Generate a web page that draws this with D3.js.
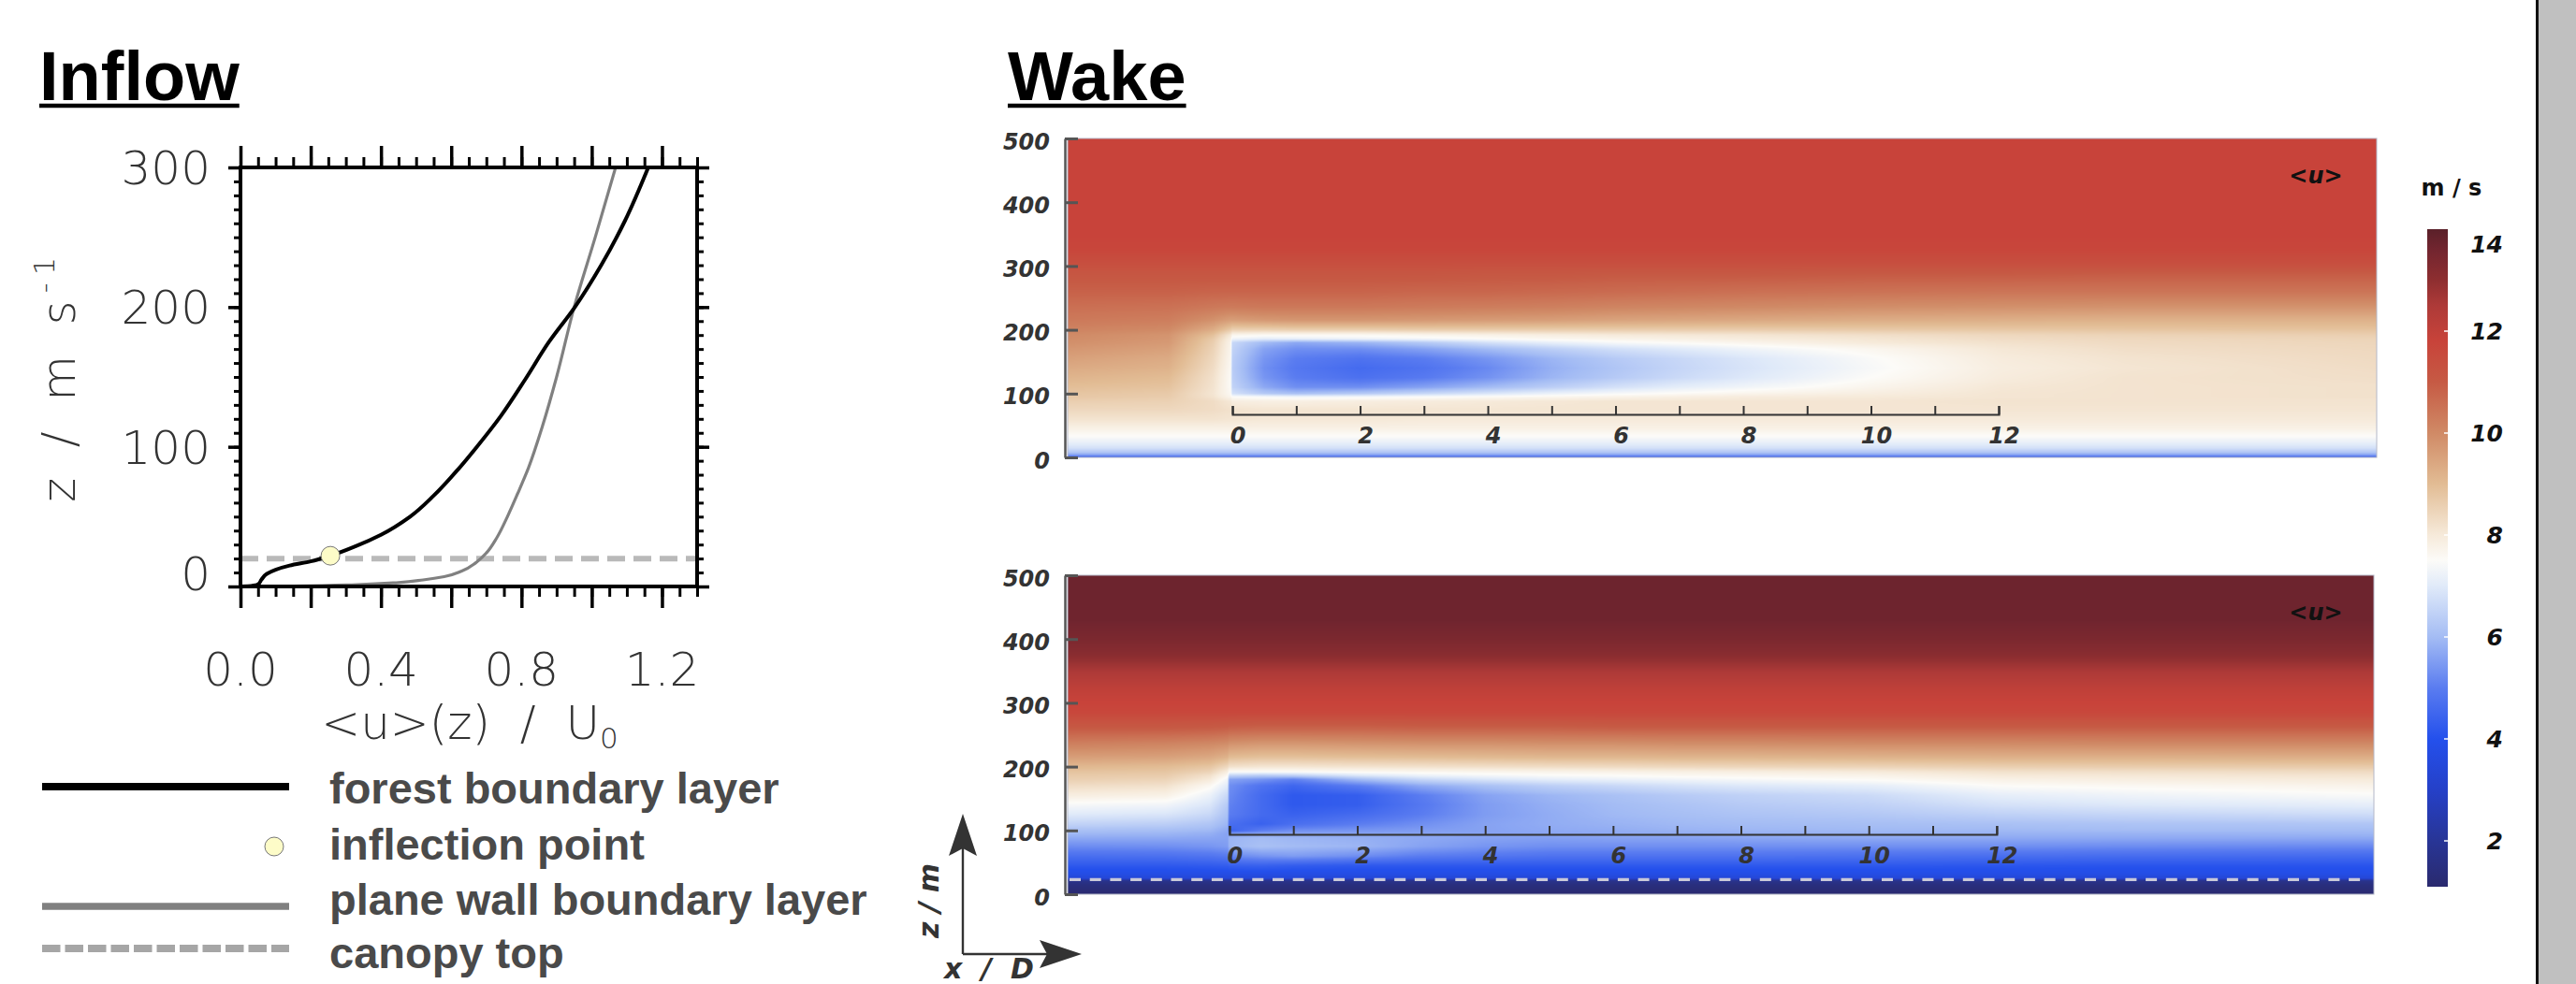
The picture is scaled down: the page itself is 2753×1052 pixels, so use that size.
<!DOCTYPE html>
<html>
<head>
<meta charset="utf-8">
<script src="https://cdn.jsdelivr.net/npm/d3@7"></script>
<style>
  body { margin: 0; background: #fff; }
  svg { display: block; }
</style>
</head>
<body>
<div id="container"></div>
<script>
"use strict";

const width = 2753;
const height = 1052;

// ---- inflow profiles (u / U0 against z) ----
const forestU = [0, 0.03, 0.05, 0.06, 0.075, 0.1, 0.14, 0.2, 0.256, 0.33, 0.4, 0.483, 0.55, 0.62, 0.673, 0.741, 0.81, 0.878, 0.952, 1.027, 1.095, 1.161];
const forestZ = [0, 0.3, 1.5, 5, 9, 12, 15, 18, 22, 29, 37, 50, 65, 84, 100, 122, 148, 175, 200, 230, 262, 300];
const planeU = [0, 0.15, 0.33, 0.45, 0.52, 0.58, 0.63, 0.67, 0.70, 0.73, 0.76, 0.79, 0.82, 0.86, 0.90, 0.95, 1.01, 1.068];
const planeZ = [0, 0.3, 1.3, 2.8, 4.7, 7, 11, 17, 24, 35, 50, 67, 85, 115, 150, 200, 250, 300];
const inflectionPoint = [0.256, 22];
const canopyInflow = 20;
const canopyWake = 23;

const inflowXTicks = [0.0, 0.4, 0.8, 1.2];
const inflowYTicks = [0, 100, 200, 300];
const legendLabels = ["forest boundary layer", "inflection point", "plane wall boundary layer", "canopy top"];

// ---- wake fields: <u> in m/s, rows = zLevels, columns = xCols (x / D) ----
const xCols = [-2.6, -1, -0.3, -0.03, 0, 0.5, 1, 2, 3, 4, 5, 6, 7, 8, 10, 12, 14, 18];
const zLevels = [500, 430, 400, 375, 350, 325, 305, 285, 260, 235, 215, 200, 192, 186, 180, 170, 155, 140, 125, 110, 100, 95, 88, 75, 60, 45, 32, 25, 21, 15, 8, 3, 0];

const uPlaneWall = [
  [11.8,11.8,11.8,11.8,11.8,11.8,11.8,11.8,11.8,11.8,11.8,11.8,11.8,11.8,11.8,11.8,11.8,11.8],
  [11.8,11.8,11.8,11.8,11.8,11.8,11.8,11.8,11.8,11.8,11.8,11.8,11.8,11.8,11.8,11.8,11.8,11.8],
  [11.8,11.8,11.8,11.8,11.8,11.8,11.8,11.8,11.8,11.8,11.8,11.8,11.8,11.8,11.8,11.8,11.8,11.8],
  [11.8,11.8,11.8,11.8,11.8,11.8,11.8,11.8,11.8,11.8,11.8,11.8,11.8,11.8,11.8,11.8,11.8,11.8],
  [11.8,11.8,11.8,11.8,11.8,11.8,11.8,11.8,11.8,11.8,11.8,11.8,11.8,11.8,11.8,11.8,11.8,11.8],
  [11.7,11.7,11.7,11.7,11.7,11.7,11.7,11.7,11.7,11.7,11.7,11.7,11.7,11.7,11.7,11.7,11.7,11.7],
  [11.4,11.4,11.4,11.4,11.4,11.4,11.4,11.4,11.4,11.4,11.4,11.4,11.4,11.4,11.4,11.4,11.4,11.4],
  [11.1,11.1,11.1,11.1,11.1,11.1,11.1,11.1,11.1,11.05,11.05,11.0,11.0,11.0,10.95,10.95,10.9,10.9],
  [10.85,10.85,10.8,10.8,10.8,10.8,10.8,10.8,10.75,10.75,10.7,10.65,10.6,10.55,10.5,10.45,10.45,10.45],
  [10.55,10.5,10.35,10.3,10.3,10.35,10.35,10.35,10.3,10.25,10.2,10.1,10.05,10.0,9.9,9.85,9.8,9.8],
  [10.35,10.25,9.85,9.6,9.6,9.7,9.75,9.75,9.7,9.65,9.6,9.5,9.45,9.4,9.3,9.25,9.2,9.2],
  [10.15,10.0,9.3,8.7,8.55,8.55,8.6,8.6,8.65,8.65,8.65,8.65,8.65,8.65,8.7,8.75,8.8,8.85],
  [10.0,9.8,8.9,8.05,7.7,7.6,7.6,7.6,7.7,7.8,7.9,8.0,8.05,8.1,8.25,8.4,8.5,8.6],
  [9.95,9.75,8.7,7.85,7.3,7.1,7.15,7.25,7.35,7.5,7.65,7.75,7.85,7.95,8.1,8.3,8.4,8.5],
  [9.9,9.7,8.6,7.75,6.6,6.0,5.7,5.9,6.3,6.8,7.15,7.4,7.55,7.7,8.0,8.2,8.35,8.45],
  [9.75,9.55,8.5,7.7,6.5,5.6,5.3,5.3,5.6,6.0,6.4,6.75,7.0,7.25,7.65,8.05,8.25,8.4],
  [9.55,9.35,8.4,7.65,6.4,5.4,5.0,4.8,5.0,5.4,5.9,6.3,6.6,6.9,7.45,7.95,8.15,8.35],
  [9.35,9.2,8.3,7.6,6.35,5.3,4.9,4.6,4.8,5.2,5.8,6.2,6.55,6.85,7.4,7.9,8.1,8.3],
  [9.15,9.0,8.2,7.55,6.4,5.4,5.0,4.75,4.95,5.35,5.9,6.3,6.65,6.95,7.5,7.95,8.15,8.25],
  [8.95,8.85,8.15,7.55,6.5,5.7,5.3,5.3,5.6,6.0,6.4,6.8,7.1,7.3,7.7,8.05,8.15,8.2],
  [8.8,8.7,8.1,7.6,6.8,6.3,6.1,6.3,6.6,6.9,7.2,7.4,7.55,7.7,7.9,8.1,8.15,8.2],
  [8.75,8.65,8.15,7.7,7.5,7.4,7.3,7.35,7.45,7.55,7.65,7.75,7.85,7.95,8.0,8.1,8.15,8.2],
  [8.6,8.55,8.3,8.05,7.9,7.85,7.85,7.9,7.95,8.0,8.05,8.1,8.1,8.1,8.1,8.15,8.15,8.15],
  [8.4,8.4,8.3,8.2,8.15,8.1,8.1,8.1,8.1,8.1,8.1,8.1,8.1,8.1,8.1,8.1,8.1,8.1],
  [8.15,8.15,8.15,8.1,8.1,8.05,8.05,8.05,8.0,8.0,8.0,8.0,8.0,8.0,8.0,8.0,8.0,8.0],
  [7.8,7.8,7.8,7.8,7.8,7.8,7.8,7.8,7.8,7.8,7.8,7.8,7.8,7.8,7.8,7.8,7.8,7.8],
  [7.45,7.45,7.45,7.45,7.45,7.45,7.45,7.45,7.45,7.45,7.45,7.45,7.45,7.45,7.45,7.45,7.45,7.45],
  [7.2,7.2,7.2,7.2,7.2,7.2,7.2,7.2,7.2,7.2,7.2,7.2,7.2,7.2,7.2,7.2,7.2,7.2],
  [7.05,7.05,7.05,7.05,7.05,7.05,7.05,7.05,7.05,7.05,7.05,7.05,7.05,7.05,7.05,7.05,7.05,7.05],
  [6.8,6.8,6.8,6.8,6.8,6.8,6.8,6.8,6.8,6.8,6.8,6.8,6.8,6.8,6.8,6.8,6.8,6.8],
  [6.2,6.2,6.2,6.2,6.2,6.2,6.2,6.2,6.2,6.2,6.2,6.2,6.2,6.2,6.2,6.2,6.2,6.2],
  [5.4,5.4,5.4,5.4,5.4,5.4,5.4,5.4,5.4,5.4,5.4,5.4,5.4,5.4,5.4,5.4,5.4,5.4],
  [4.0,4.0,4.0,4.0,4.0,4.0,4.0,4.0,4.0,4.0,4.0,4.0,4.0,4.0,4.0,4.0,4.0,4.0]
];

const uForest = [
  [13.7,13.7,13.7,13.7,13.7,13.7,13.7,13.7,13.7,13.7,13.7,13.7,13.7,13.7,13.7,13.7,13.7,13.7],
  [13.65,13.65,13.65,13.65,13.65,13.65,13.65,13.65,13.65,13.65,13.65,13.65,13.65,13.65,13.65,13.65,13.65,13.65],
  [13.4,13.4,13.4,13.4,13.4,13.4,13.4,13.4,13.4,13.4,13.4,13.4,13.4,13.4,13.4,13.4,13.4,13.4],
  [13.1,13.1,13.1,13.1,13.1,13.1,13.1,13.1,13.1,13.1,13.1,13.1,13.1,13.1,13.1,13.1,13.1,13.1],
  [12.55,12.55,12.55,12.55,12.55,12.55,12.55,12.55,12.55,12.55,12.55,12.55,12.55,12.55,12.55,12.55,12.55,12.55],
  [12.1,12.1,12.1,12.1,12.1,12.1,12.1,12.1,12.1,12.1,12.1,12.1,12.1,12.1,12.1,12.1,12.1,12.1],
  [11.85,11.85,11.85,11.85,11.85,11.85,11.85,11.85,11.85,11.85,11.85,11.85,11.85,11.85,11.85,11.85,11.85,11.85],
  [11.65,11.65,11.65,11.65,11.65,11.65,11.65,11.65,11.65,11.65,11.65,11.65,11.65,11.65,11.65,11.65,11.65,11.65],
  [11.0,11.0,10.95,10.9,10.85,10.8,10.8,10.8,10.85,10.85,10.85,10.9,10.9,10.9,10.9,10.9,10.9,10.9],
  [10.2,10.1,10.0,9.9,9.8,9.7,9.7,9.75,9.8,9.8,9.85,9.85,9.9,9.9,9.95,9.95,10.0,10.0],
  [9.6,9.55,9.4,9.2,9.0,8.9,8.9,8.95,9.0,9.05,9.1,9.1,9.15,9.15,9.2,9.25,9.25,9.3],
  [9.1,9.0,8.8,8.4,8.2,8.1,8.1,8.15,8.2,8.25,8.3,8.35,8.4,8.45,8.5,8.6,8.65,8.7],
  [8.85,8.8,8.5,7.9,7.5,7.5,7.5,7.6,7.65,7.7,7.75,7.8,7.85,7.9,8.0,8.2,8.25,8.35],
  [8.7,8.65,8.2,7.6,6.5,6.3,6.4,6.9,7.2,7.35,7.45,7.5,7.6,7.65,7.75,8.0,8.05,8.15],
  [8.6,8.5,8.0,7.3,5.6,5.4,5.1,6.0,6.6,6.9,7.1,7.2,7.3,7.4,7.55,7.8,7.9,8.0],
  [8.3,8.2,7.6,7.0,5.3,4.8,4.5,5.0,5.7,6.1,6.4,6.6,6.8,6.95,7.1,7.5,7.6,7.75],
  [7.9,7.8,7.2,6.6,5.2,4.6,4.2,4.3,5.0,5.6,5.9,6.1,6.3,6.45,6.65,7.1,7.25,7.45],
  [7.4,7.3,6.9,6.3,5.1,4.6,4.2,4.3,4.9,5.5,5.8,6.0,6.15,6.3,6.45,6.8,6.95,7.1],
  [7.0,6.9,6.6,6.1,5.0,4.6,4.4,4.6,5.0,5.5,5.75,5.95,6.05,6.15,6.25,6.45,6.55,6.7],
  [6.5,6.4,6.2,5.9,4.7,4.4,4.7,5.0,5.3,5.6,5.75,5.85,5.95,6.0,6.05,6.1,6.15,6.2],
  [6.1,6.05,5.95,5.7,4.4,5.0,5.3,5.4,5.5,5.6,5.7,5.75,5.85,5.9,5.95,5.95,6.0,6.0],
  [5.95,5.9,5.8,5.6,5.5,5.6,5.6,5.6,5.6,5.6,5.65,5.7,5.75,5.8,5.85,5.85,5.85,5.9],
  [5.7,5.7,5.65,5.6,5.9,6.0,5.9,5.8,5.7,5.6,5.55,5.6,5.6,5.65,5.7,5.7,5.7,5.7],
  [5.25,5.3,5.4,5.5,5.9,6.1,6.0,5.9,5.6,5.4,5.3,5.3,5.3,5.3,5.3,5.3,5.25,5.2],
  [4.7,4.75,4.85,4.95,5.2,5.4,5.5,5.3,5.0,4.9,4.8,4.8,4.8,4.8,4.75,4.7,4.65,4.6],
  [4.2,4.2,4.25,4.3,4.35,4.4,4.3,4.2,4.2,4.2,4.2,4.2,4.2,4.2,4.2,4.15,4.1,4.1],
  [3.8,3.8,3.8,3.8,3.8,3.8,3.8,3.8,3.8,3.8,3.8,3.8,3.8,3.8,3.8,3.8,3.8,3.8],
  [3.4,3.4,3.4,3.4,3.4,3.4,3.4,3.4,3.4,3.4,3.4,3.4,3.4,3.4,3.4,3.4,3.4,3.4],
  [1.8,1.8,1.8,1.8,1.8,1.8,1.8,1.8,1.8,1.8,1.8,1.8,1.8,1.8,1.8,1.8,1.8,1.8],
  [1.45,1.45,1.45,1.45,1.45,1.45,1.45,1.45,1.45,1.45,1.45,1.45,1.45,1.45,1.45,1.45,1.45,1.45],
  [1.3,1.3,1.3,1.3,1.3,1.3,1.3,1.3,1.3,1.3,1.3,1.3,1.3,1.3,1.3,1.3,1.3,1.3],
  [1.2,1.2,1.2,1.2,1.2,1.2,1.2,1.2,1.2,1.2,1.2,1.2,1.2,1.2,1.2,1.2,1.2,1.2],
  [1.2,1.2,1.2,1.2,1.2,1.2,1.2,1.2,1.2,1.2,1.2,1.2,1.2,1.2,1.2,1.2,1.2,1.2]
];

const wakeZTicks = [0, 100, 200, 300, 400, 500];
const wakeXTicks = [0, 2, 4, 6, 8, 10, 12];
const colorbarTicks = [2, 4, 6, 8, 10, 12, 14];

// colour map of <u>
const uStops = [1.1, 2, 3, 4, 5, 6, 7, 7.5, 8, 9, 10, 11, 11.8, 12.5, 13, 13.6, 14];
const uColors = ["#2a2a6e", "#283596", "#2540c8", "#2450ec", "#5a7cf0", "#a4bcf4", "#e0eaf9", "#fcfbf8",
                 "#f6eada", "#e2bc94", "#d08a66", "#c65a44", "#c8433a", "#ae3a38", "#8e2e30", "#72252f", "#5a2029"];
const colorScale = d3.scaleLinear().domain(uStops).range(uColors).interpolate(d3.interpolateRgb).clamp(true);

const thinFont = "'DejaVu Sans', sans-serif";
const boldFont = "'Liberation Sans', Arial, sans-serif";
const wakeFont = "'DejaVu Sans', sans-serif";

const svg = d3.select("#container").append("svg")
    .attr("width", width)
    .attr("height", height);

svg.append("rect").attr("width", width).attr("height", height).attr("fill", "#fff");

// titles with underline
function title(txt, x, y) {
    const t = svg.append("text")
        .attr("x", x).attr("y", y)
        .attr("font-family", boldFont)
        .attr("font-weight", "bold")
        .attr("font-size", 74)
        .attr("fill", "#000")
        .text(txt);
    const w = t.node().getComputedTextLength();
    svg.append("line")
        .attr("x1", x).attr("x2", x + w)
        .attr("y1", y + 6).attr("y2", y + 6)
        .attr("stroke", "#000").attr("stroke-width", 4.5);
}
title("Inflow", 42, 107);
title("Wake", 1077, 107);

// ================= INFLOW =================
const ix = d3.scaleLinear().domain([0, 1.3]).range([257, 745]);
const iy = d3.scaleLinear().domain([0, 300]).range([627, 179]);

const inflow = svg.append("g");

// canopy top
inflow.append("line")
    .attr("x1", ix(0)).attr("x2", ix(1.3))
    .attr("y1", iy(canopyInflow)).attr("y2", iy(canopyInflow))
    .attr("stroke", "#b9b9b9").attr("stroke-width", 6)
    .attr("stroke-dasharray", "19 9");

const profileLine = d3.line()
    .x(d => ix(d[0]))
    .y(d => iy(d[1]))
    .curve(d3.curveMonotoneY);

inflow.append("path")
    .datum(d3.zip(planeU, planeZ))
    .attr("d", profileLine)
    .attr("fill", "none").attr("stroke", "#808080").attr("stroke-width", 3.2);

inflow.append("path")
    .datum(d3.zip(forestU, forestZ))
    .attr("d", profileLine)
    .attr("fill", "none").attr("stroke", "#000").attr("stroke-width", 4);

inflow.append("circle")
    .attr("cx", ix(inflectionPoint[0])).attr("cy", iy(inflectionPoint[1]))
    .attr("r", 10)
    .attr("fill", "#fdfcc8").attr("stroke", "#777").attr("stroke-width", 1);

// frame + ticks
function styleAxis(g, w) {
    g.select(".domain").remove();
    g.selectAll(".tick line").attr("stroke", "#000").attr("stroke-width", w);
}
const majorU = d3.range(0, 1.31, 0.2);
const minorU = d3.range(0, 1.31, 0.05);
const majorZ = [0, 100, 200, 300];
const minorZ = d3.range(0, 301, 10);

inflow.append("g").attr("transform", `translate(0,${iy(0)})`)
    .call(d3.axisBottom(ix).tickValues(minorU).tickSize(11).tickFormat(""))
    .call(g => styleAxis(g, 3));
inflow.append("g").attr("transform", `translate(0,${iy(0)})`)
    .call(d3.axisBottom(ix).tickValues(majorU).tickSize(23).tickFormat(""))
    .call(g => styleAxis(g, 3.5));
inflow.append("g").attr("transform", `translate(0,${iy(300)})`)
    .call(d3.axisTop(ix).tickValues(minorU).tickSize(11).tickFormat(""))
    .call(g => styleAxis(g, 3));
inflow.append("g").attr("transform", `translate(0,${iy(300)})`)
    .call(d3.axisTop(ix).tickValues(majorU).tickSize(23).tickFormat(""))
    .call(g => styleAxis(g, 3.5));
inflow.append("g").attr("transform", `translate(${ix(0)},0)`)
    .call(d3.axisLeft(iy).tickValues(minorZ).tickSize(7).tickFormat(""))
    .call(g => styleAxis(g, 3));
inflow.append("g").attr("transform", `translate(${ix(0)},0)`)
    .call(d3.axisLeft(iy).tickValues(majorZ).tickSize(13).tickFormat(""))
    .call(g => styleAxis(g, 3.5));
inflow.append("g").attr("transform", `translate(${ix(1.3)},0)`)
    .call(d3.axisRight(iy).tickValues(minorZ).tickSize(7).tickFormat(""))
    .call(g => styleAxis(g, 3));
inflow.append("g").attr("transform", `translate(${ix(1.3)},0)`)
    .call(d3.axisRight(iy).tickValues(majorZ).tickSize(13).tickFormat(""))
    .call(g => styleAxis(g, 3.5));

inflow.append("rect")
    .attr("x", ix(0)).attr("y", iy(300))
    .attr("width", ix(1.3) - ix(0)).attr("height", iy(0) - iy(300))
    .attr("fill", "none").attr("stroke", "#000").attr("stroke-width", 4);

// tick labels
inflow.selectAll(".ylab").data(inflowYTicks).enter().append("text")
    .attr("x", ix(0) - 32)
    .attr("y", d => iy(d) + (d === 0 ? -14 : 0))
    .attr("dy", "0.36em")
    .attr("text-anchor", "end")
    .attr("font-family", thinFont).attr("font-weight", 200)
    .attr("font-size", 50).attr("fill", "#333")
    .text(d => d);
inflow.selectAll(".xlab").data(inflowXTicks).enter().append("text")
    .attr("x", d => ix(d))
    .attr("y", 733)
    .attr("text-anchor", "middle")
    .attr("font-family", thinFont).attr("font-weight", 200)
    .attr("font-size", 50).attr("fill", "#333")
    .text(d => d.toFixed(1));

// axis titles
const xTitle = inflow.append("text")
    .attr("x", 502).attr("y", 790)
    .attr("text-anchor", "middle")
    .style("white-space", "pre")
    .attr("font-family", thinFont).attr("font-weight", 200)
    .attr("font-size", 50).attr("fill", "#333");
xTitle.append("tspan").text("<u>(z)  /  U");
xTitle.append("tspan").attr("font-size", 31).attr("dy", 10).text("0");

const yTitle = inflow.append("text")
    .attr("transform", "translate(80,406) rotate(-90)")
    .attr("text-anchor", "middle")
    .attr("font-family", thinFont).attr("font-weight", 200)
    .attr("font-size", 50).attr("fill", "#333")
    .attr("textLength", 262).attr("lengthAdjust", "spacing");
yTitle.append("tspan").text("z / m s");
yTitle.append("tspan").attr("font-size", 30).attr("dy", -22).text("-1");

// legend
const legendRows = [841, 905, 969, 1014];
const legendBase = [859, 919, 978, 1035];
const legend = svg.append("g");
legend.append("line").attr("x1", 45).attr("x2", 309).attr("y1", legendRows[0]).attr("y2", legendRows[0])
    .attr("stroke", "#000").attr("stroke-width", 8);
legend.append("circle").attr("cx", 293).attr("cy", legendRows[1]).attr("r", 10)
    .attr("fill", "#fdfcc8").attr("stroke", "#777").attr("stroke-width", 1);
legend.append("line").attr("x1", 45).attr("x2", 309).attr("y1", legendRows[2]).attr("y2", legendRows[2])
    .attr("stroke", "#808080").attr("stroke-width", 7.5);
legend.append("line").attr("x1", 45).attr("x2", 309).attr("y1", legendRows[3]).attr("y2", legendRows[3])
    .attr("stroke", "#a6a6a6").attr("stroke-width", 8).attr("stroke-dasharray", "19.5 5");
legend.selectAll("text").data(legendLabels).enter().append("text")
    .attr("x", 352)
    .attr("y", (d, i) => legendBase[i])
    .attr("font-family", boldFont).attr("font-weight", "bold")
    .attr("font-size", 47).attr("fill", "#4a4a4a")
    .text(d => d);

// ================= WAKE =================
const lutMin = 1, lutMax = 14.5, lutN = 1200;
const lut = d3.range(lutN).map(i => d3.rgb(colorScale(lutMin + (lutMax - lutMin) * i / (lutN - 1))));

function drawField(parent, grid, xScale, zScale) {
    const [xa, xb] = xScale.range();
    const [yb, ya] = zScale.range();
    const w = Math.round(xb - xa), h = Math.round(yb - ya);
    const canvas = document.createElement("canvas");
    canvas.width = w; canvas.height = h;
    const ctx = canvas.getContext("2d");
    const img = ctx.createImageData(w, h);

    // each grid column interpolated along z
    const cols = xCols.map((_, j) => {
        const s = d3.scaleLinear().domain(zLevels).range(grid.map(r => r[j])).clamp(true);
        return d3.range(h).map(py => s(zScale.invert(ya + py + 0.5)));
    });

    for (let px = 0; px < w; px++) {
        const xv = xScale.invert(xa + px + 0.5);
        let j = d3.bisectRight(xCols, xv) - 1;
        j = Math.max(0, Math.min(xCols.length - 2, j));
        const t = Math.max(0, Math.min(1, (xv - xCols[j]) / (xCols[j + 1] - xCols[j])));
        for (let py = 0; py < h; py++) {
            const u = cols[j][py] * (1 - t) + cols[j + 1][py] * t;
            let li = Math.round((u - lutMin) / (lutMax - lutMin) * (lutN - 1));
            li = Math.max(0, Math.min(lutN - 1, li));
            const c = lut[li];
            const k = (py * w + px) * 4;
            img.data[k] = c.r; img.data[k + 1] = c.g; img.data[k + 2] = c.b; img.data[k + 3] = 255;
        }
    }
    ctx.putImageData(img, 0, 0);
    parent.append("image")
        .attr("x", xa).attr("y", ya)
        .attr("width", w).attr("height", h)
        .attr("preserveAspectRatio", "none")
        .attr("href", canvas.toDataURL());
    parent.append("rect")
        .attr("x", xa).attr("y", ya).attr("width", w).attr("height", h)
        .attr("fill", "none").attr("stroke", "#b4b8c8").attr("stroke-width", 1);
}

function wakePanel(grid, xScale, zScale, axisY, canopy) {
    const g = svg.append("g");
    drawField(g, grid, xScale, zScale);

    if (canopy !== null) {
        g.append("line")
            .attr("x1", xScale.range()[0] + 2).attr("x2", xScale.range()[1] - 8)
            .attr("y1", zScale(canopy)).attr("y2", zScale(canopy))
            .attr("stroke", "#c9c9d9").attr("stroke-width", 3.3)
            .attr("stroke-dasharray", "12 9.7");
    }

    // z axis
    const ax = g.append("g").attr("transform", "translate(1138,0)")
        .call(d3.axisRight(zScale).tickValues(wakeZTicks).tickSize(14).tickSizeOuter(0).tickFormat(""));
    ax.select(".domain").attr("stroke", "#555").attr("stroke-width", 2.5);
    ax.selectAll(".tick line").attr("stroke", "#555").attr("stroke-width", 3);
    g.selectAll(".zlab").data(wakeZTicks).enter().append("text")
        .attr("x", 1122).attr("y", d => zScale(d) + 3)
        .attr("dy", "0.36em")
        .attr("text-anchor", "end")
        .attr("font-family", wakeFont).attr("font-weight", "bold").attr("font-style", "italic")
        .attr("font-size", 24).attr("fill", "#333")
        .text(d => d);

    // x / D axis inside the panel
    const xs = d3.scaleLinear().domain([0, 12]).range([xScale(0), xScale(12)]);
    const bx = g.append("g").attr("transform", `translate(0,${axisY})`)
        .call(d3.axisTop(xs).tickValues(d3.range(0, 13)).tickSize(9).tickSizeOuter(9).tickFormat(""));
    bx.select(".domain").attr("stroke", "#333").attr("stroke-width", 2.2).attr("fill", "none");
    bx.selectAll(".tick line").attr("stroke", "#333").attr("stroke-width", 2);
    g.selectAll(".xlab").data(wakeXTicks).enter().append("text")
        .attr("x", d => xs(d) + 6)
        .attr("y", axisY + 22)
        .attr("dy", "0.36em")
        .attr("text-anchor", "middle")
        .attr("font-family", wakeFont).attr("font-weight", "bold").attr("font-style", "italic")
        .attr("font-size", 24).attr("fill", "#333")
        .text(d => d);

    g.append("text")
        .attr("x", 2475).attr("y", zScale(500) + 48)
        .attr("text-anchor", "middle")
        .attr("font-family", wakeFont).attr("font-weight", "bold").attr("font-style", "italic")
        .attr("font-size", 24).attr("fill", "#111")
        .text("<u>");
}

const xTop = d3.scaleLinear().domain([-2.58, 17.92]).range([1141, 2540]);
const zTop = d3.scaleLinear().domain([0, 500]).range([489, 148]);
const xBot = d3.scaleLinear().domain([-2.53, 17.9]).range([1141, 2537]);
const zBot = d3.scaleLinear().domain([0, 500]).range([956, 615]);

wakePanel(uPlaneWall, xTop, zTop, 443, null);
wakePanel(uForest, xBot, zBot, 892, canopyWake);

// coordinate arrows
const arrows = svg.append("g").attr("fill", "#333").attr("stroke", "#333");
arrows.append("path").attr("d", "M1029,1020 V905 M1029,1020 H1120").attr("stroke-width", 2.4).attr("fill", "none");
arrows.append("path").attr("d", "M1029,870 L1044,915 L1029,907 L1014,915 Z").attr("stroke", "none");
arrows.append("path").attr("d", "M1156,1020 L1111,1035 L1119,1020 L1111,1005 Z").attr("stroke", "none");
svg.append("text")
    .attr("transform", "translate(1003,963) rotate(-90)")
    .attr("text-anchor", "middle")
    .attr("font-family", wakeFont).attr("font-weight", "bold").attr("font-style", "italic")
    .attr("font-size", 30).attr("fill", "#333")
    .attr("textLength", 80).attr("lengthAdjust", "spacing")
    .text("z / m");
svg.append("text")
    .attr("x", 1057).attr("y", 1046)
    .attr("text-anchor", "middle")
    .attr("font-family", wakeFont).attr("font-weight", "bold").attr("font-style", "italic")
    .attr("font-size", 30).attr("fill", "#333")
    .attr("textLength", 96).attr("lengthAdjust", "spacing")
    .text("x / D");

// ================= COLOUR BAR =================
const cbY = d3.scaleLinear().domain([1.1, 14]).range([948, 245]);
const grad = svg.append("defs").append("linearGradient")
    .attr("id", "ugrad")
    .attr("x1", 0).attr("y1", 1).attr("x2", 0).attr("y2", 0);
grad.selectAll("stop").data(uStops).enter().append("stop")
    .attr("offset", d => (d - 1.1) / (14 - 1.1))
    .attr("stop-color", d => colorScale(d));
svg.append("rect")
    .attr("x", 2594).attr("y", cbY(14))
    .attr("width", 22).attr("height", cbY(1.1) - cbY(14))
    .attr("fill", "url(#ugrad)");
svg.selectAll(".cbtick").data(colorbarTicks.filter(d => d < 14)).enter().append("line")
    .attr("x1", 2612).attr("x2", 2616)
    .attr("y1", d => cbY(d)).attr("y2", d => cbY(d))
    .attr("stroke", "#fff").attr("stroke-opacity", 0.75).attr("stroke-width", 2);
svg.selectAll(".cblab").data(colorbarTicks).enter().append("text")
    .attr("x", 2675)
    .attr("y", d => cbY(d) + (d === 14 ? 16 : 0))
    .attr("dy", "0.36em")
    .attr("text-anchor", "end")
    .attr("font-family", wakeFont).attr("font-weight", "bold").attr("font-style", "italic")
    .attr("font-size", 25).attr("fill", "#111")
    .text(d => d);
svg.append("text")
    .attr("x", 2620).attr("y", 209)
    .attr("text-anchor", "middle")
    .attr("font-family", wakeFont).attr("font-weight", "bold")
    .attr("font-size", 24).attr("fill", "#111")
    .text("m / s");

// grey strip on the right edge
svg.append("rect").attr("x", 2712).attr("y", 0).attr("width", width - 2712).attr("height", height).attr("fill", "#c0c0c0");
svg.append("line").attr("x1", 2711.5).attr("x2", 2711.5).attr("y1", 0).attr("y2", height)
    .attr("stroke", "#111").attr("stroke-width", 3);
</script>
</body>
</html>
